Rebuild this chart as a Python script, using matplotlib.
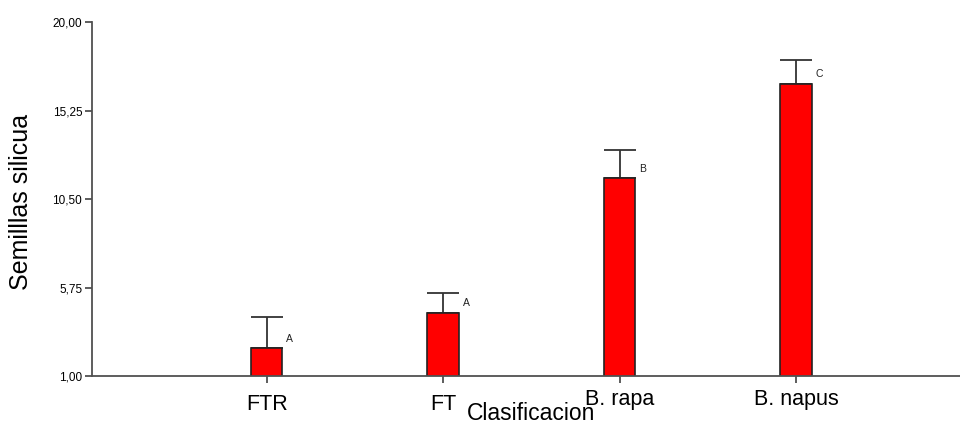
import matplotlib
matplotlib.use("Agg")
import matplotlib.pyplot as plt
import matplotlib.transforms as mtransforms
import numpy as np

categories = ["FTR", "FT", "B. rapa", "B. napus"]
means = [2.49, 4.40, 11.63, 16.69]
err_up = [1.66, 1.04, 1.48, 1.29]
letters = ["A", "A", "B", "C"]
yticks = [1.00, 5.75, 10.50, 15.25, 20.00]
ytick_labels = ["1,00", "5,75", "10,50", "15,25", "20,00"]

plt.rcParams['font.family'] = ['Liberation Sans', 'DejaVu Sans']

fig = plt.figure(figsize=(9.6, 4.25), dpi=100)
ax = fig.add_axes([92/960, 1-376/425, 1-92/960, (376-22)/425])

x = np.arange(len(categories))
ax.bar(x, means, width=0.178, color="#ff0000", edgecolor="#222222", linewidth=1.2, zorder=2)
ax.errorbar(x, means, yerr=[[0]*len(means), err_up], fmt="none", ecolor="#333333",
            elinewidth=1.3, capsize=11.5, capthick=1.3, zorder=1)

for xi, m, lab in zip(x, means, letters):
    ax.text(xi + 0.13, m + 0.5, lab, fontsize=7.5, color="#222222", ha="center", va="center")

ax.set_xlim(-0.99, 3.93)
ax.set_ylim(1.0, 20.0)
ax.set_yticks(yticks)
ax.set_yticklabels(ytick_labels, fontsize=8.5)
ax.set_xticks(x)
ax.set_xticklabels(categories, fontsize=15.5)

for s in ["top", "right"]:
    ax.spines[s].set_visible(False)
for s in ["left", "bottom"]:
    ax.spines[s].set_color("#505050")
    ax.spines[s].set_linewidth(1.3)

ax.tick_params(axis="y", direction="out", length=5, width=1.3, color="#505050", pad=2)
ax.tick_params(axis="x", direction="out", length=5, width=1.3, color="#505050", pad=10)

# staggered tick label offsets as in the reference
offsets = [3, 3, 8, 8]
for lbl, off in zip(ax.get_xticklabels(), offsets):
    lbl.set_transform(lbl.get_transform() + mtransforms.ScaledTranslation(0, off/100, fig.dpi_scale_trans))

ax.set_ylabel("Semilllas silicua", fontsize=18)
ax.yaxis.set_label_coords(-0.068, 0.4915)
ax.set_xlabel("Clasificacion", fontsize=16.5)
ax.xaxis.set_label_coords(0.506, -0.074)

fig.savefig("out.png", dpi=100)
